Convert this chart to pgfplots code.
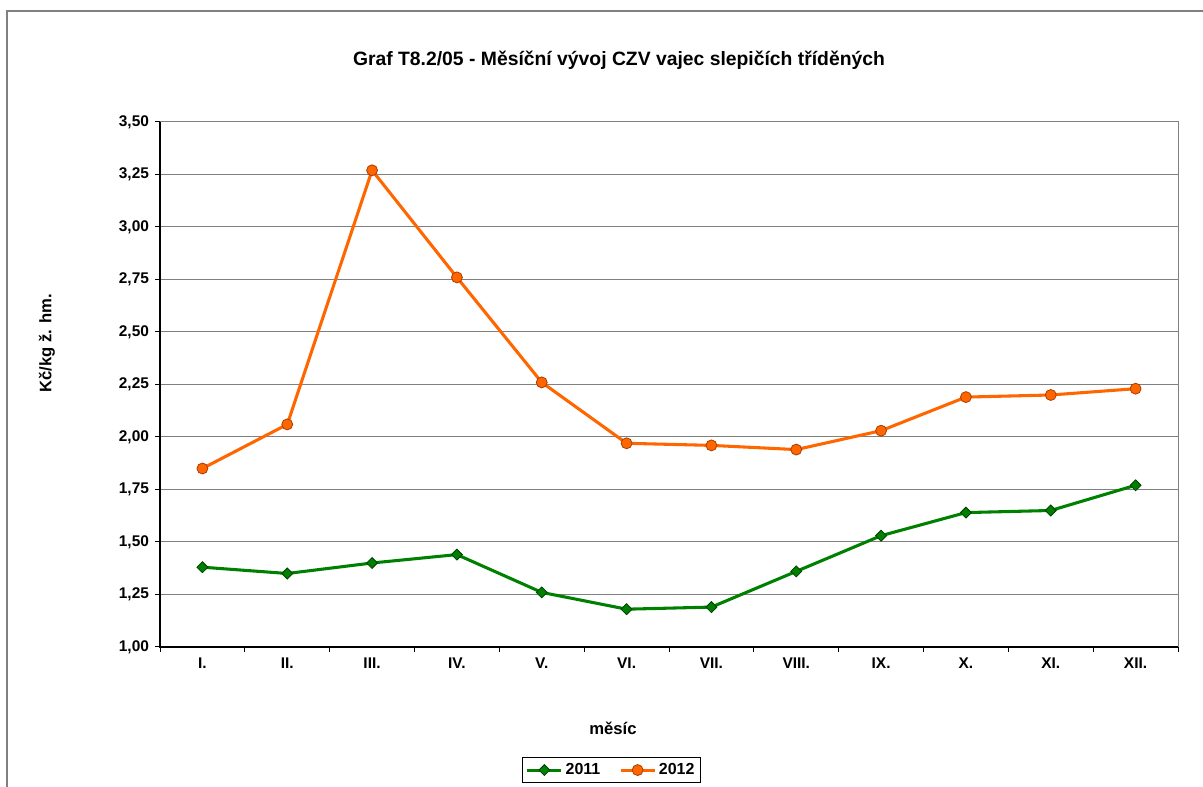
\documentclass[border=0pt]{standalone}
\usepackage{pgfplots}
\pgfplotsset{compat=1.18}
\usepackage{fontspec}
\setmainfont{Liberation Sans}

\definecolor{zelena}{RGB}{0,128,0}
\definecolor{zelenaokraj}{RGB}{0,64,0}
\definecolor{oranz}{RGB}{255,102,0}
\definecolor{oranzokraj}{RGB}{170,60,0}
\definecolor{mrizka}{RGB}{128,128,128}

\begin{document}
\begin{tikzpicture}[x=0.75pt,y=0.75pt]
% page is 1203 x 787 px, one px = 0.75pt
\path[use as bounding box] (0,0) rectangle (1203,787);
\draw[mrizka, line width=0.9pt] (7,0) -- (7,776) -- (1203,776);

\begin{axis}[
    at={(120pt,105pt)}, anchor=south west,
    scale only axis,
    width=763.5pt, height=393.75pt,
    xmin=0.5, xmax=12.5,
    ymin=1, ymax=3.5,
    xtick={1,...,12},
    xticklabels={I.,II.,III.,IV.,V.,VI.,VII.,VIII.,IX.,X.,XI.,XII.},
    minor xtick={0.5,1.5,...,12.5},
    ytick={1,1.25,...,3.5},
    xtick pos=bottom, ytick pos=left,
    tick align=outside,
    major tick length=3.75pt,
    minor tick length=3.75pt,
    major x tick style={draw=none},
    minor x tick style={black, line width=0.75pt},
    ytick style={black, line width=0.75pt},
    ymajorgrids,
    grid style={mrizka, line width=0.75pt},
    axis line style={mrizka, line width=0.75pt},
    /pgf/number format/assume math mode=true,
    /pgf/number format/.cd, fixed, fixed zerofill, precision=2, use comma,
    /pgfplots/.cd,
    ticklabel style={font=\fontsize{11.6}{13}\selectfont\bfseries},
    yticklabel style={xshift=-1pt},
    xticklabel style={yshift=-1pt},
    legend style={at={(0.4435,-0.2095)}, anchor=north, draw=black,
        line width=0.75pt, legend columns=2,
        font=\fontsize{12}{14}\selectfont\bfseries,
        inner sep=2.5pt, /tikz/every even column/.append style={column sep=12pt}},
    legend image code/.code={%
        \draw[mark repeat=2, mark phase=2] plot coordinates {(0cm,0cm) (0.45cm,0cm) (0.9cm,0cm)};},
    clip=false,
]
\addplot[zelena, line width=2.3pt, mark=square*, mark size=2.9pt,
    mark options={rotate=45, fill=zelena, draw=zelenaokraj, line width=0.6pt}]
    coordinates {
    (1,1.38) (2,1.35) (3,1.40) (4,1.44) (5,1.26) (6,1.18)
    (7,1.19) (8,1.36) (9,1.53) (10,1.64) (11,1.65) (12,1.77)
};
\addlegendentry{2011}
\addplot[oranz, line width=2.3pt, mark=*, mark size=4.1pt,
    mark options={fill=oranz, draw=oranzokraj, line width=0.6pt}]
    coordinates {
    (1,1.85) (2,2.06) (3,3.27) (4,2.76) (5,2.26) (6,1.97)
    (7,1.96) (8,1.94) (9,2.03) (10,2.19) (11,2.20) (12,2.23)
};
\addlegendentry{2012}
\draw[black, line width=1pt] (rel axis cs:0,1) -- (rel axis cs:0,0) -- (rel axis cs:1,0);
\end{axis}

\node[font=\fontsize{14.5}{17}\selectfont\bfseries] at (619,727)
    {Graf T8.2/05 - Měsíční vývoj CZV vajec slepičích tříděných};
\node[font=\fontsize{12.5}{14}\selectfont\bfseries, rotate=90] at (47,444)
    {Kč/kg ž. hm.};
\node[font=\fontsize{12.5}{14}\selectfont\bfseries] at (613,59)
    {měsíc};
\end{tikzpicture}
\end{document}
